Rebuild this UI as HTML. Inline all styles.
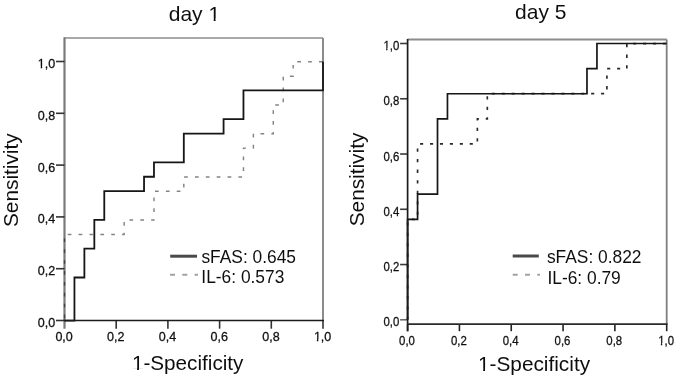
<!DOCTYPE html>
<html><head><meta charset="utf-8"><title>ROC curves day 1 and day 5</title><style>
html,body{margin:0;padding:0;background:#fff;}
body{width:685px;height:378px;overflow:hidden;}
svg{display:block;}
text{font-family:"Liberation Sans", sans-serif;fill:#111;}
</style></head><body>
<svg width="685" height="378" viewBox="0 0 685 378">
<rect x="0" y="0" width="685" height="378" fill="#fff"/>
<defs><filter id="soft" x="-2%" y="-2%" width="104%" height="104%"><feGaussianBlur stdDeviation="0.35"/></filter></defs>
<g filter="url(#soft)">
<rect x="0" y="0" width="685" height="378" fill="#fff"/>
<!-- day 1 -->
<line x1="64.5" y1="38.0" x2="323.0" y2="38.0" stroke="#8c8c8c" stroke-width="1.6"/>
<line x1="323.0" y1="38.0" x2="323.0" y2="320.5" stroke="#8c8c8c" stroke-width="2"/>
<line x1="64.5" y1="37.2" x2="64.5" y2="320.5" stroke="#7a7a7a" stroke-width="2.2"/>
<line x1="56.0" y1="320.50" x2="64.5" y2="320.50" stroke="#333" stroke-width="1.6"/>
<g transform="translate(55.20,327.00) scale(0.93,1)"><text x="-18.77" y="0" font-size="13.5" stroke="#111" stroke-width="0.3">0,0</text></g>
<line x1="56.0" y1="268.70" x2="64.5" y2="268.70" stroke="#333" stroke-width="1.6"/>
<g transform="translate(55.20,275.20) scale(0.93,1)"><text x="-18.77" y="0" font-size="13.5" stroke="#111" stroke-width="0.3">0,2</text></g>
<line x1="56.0" y1="216.90" x2="64.5" y2="216.90" stroke="#333" stroke-width="1.6"/>
<g transform="translate(55.20,223.40) scale(0.93,1)"><text x="-18.77" y="0" font-size="13.5" stroke="#111" stroke-width="0.3">0,4</text></g>
<line x1="56.0" y1="165.10" x2="64.5" y2="165.10" stroke="#333" stroke-width="1.6"/>
<g transform="translate(55.20,171.60) scale(0.93,1)"><text x="-18.77" y="0" font-size="13.5" stroke="#111" stroke-width="0.3">0,6</text></g>
<line x1="56.0" y1="113.30" x2="64.5" y2="113.30" stroke="#333" stroke-width="1.6"/>
<g transform="translate(55.20,119.80) scale(0.93,1)"><text x="-18.77" y="0" font-size="13.5" stroke="#111" stroke-width="0.3">0,8</text></g>
<line x1="56.0" y1="61.50" x2="64.5" y2="61.50" stroke="#333" stroke-width="1.6"/>
<g transform="translate(55.20,68.00) scale(0.93,1)"><text x="-18.77" y="0" font-size="13.5" stroke="#111" stroke-width="0.3">1,0</text><rect x="-18.74" y="-1.71" width="3.17" height="3.31" fill="#fff"/><rect x="-13.98" y="-1.71" width="3.26" height="3.31" fill="#fff"/></g>
<line x1="64.50" y1="320.5" x2="64.50" y2="328.7" stroke="#7a7a7a" stroke-width="2.2"/>
<g transform="translate(64.10,341.30) scale(0.93,1)"><text x="-9.38" y="0" font-size="13.5" stroke="#111" stroke-width="0.3">0,0</text></g>
<line x1="116.20" y1="320.5" x2="116.20" y2="328.7" stroke="#333" stroke-width="1.6"/>
<g transform="translate(115.80,341.30) scale(0.93,1)"><text x="-9.38" y="0" font-size="13.5" stroke="#111" stroke-width="0.3">0,2</text></g>
<line x1="167.90" y1="320.5" x2="167.90" y2="328.7" stroke="#333" stroke-width="1.6"/>
<g transform="translate(167.50,341.30) scale(0.93,1)"><text x="-9.38" y="0" font-size="13.5" stroke="#111" stroke-width="0.3">0,4</text></g>
<line x1="219.60" y1="320.5" x2="219.60" y2="328.7" stroke="#333" stroke-width="1.6"/>
<g transform="translate(219.20,341.30) scale(0.93,1)"><text x="-9.38" y="0" font-size="13.5" stroke="#111" stroke-width="0.3">0,6</text></g>
<line x1="271.30" y1="320.5" x2="271.30" y2="328.7" stroke="#333" stroke-width="1.6"/>
<g transform="translate(270.90,341.30) scale(0.93,1)"><text x="-9.38" y="0" font-size="13.5" stroke="#111" stroke-width="0.3">0,8</text></g>
<line x1="323.00" y1="320.5" x2="323.00" y2="328.7" stroke="#333" stroke-width="1.6"/>
<g transform="translate(322.60,341.30) scale(0.93,1)"><text x="-9.38" y="0" font-size="13.5" stroke="#111" stroke-width="0.3">1,0</text><rect x="-9.36" y="-1.71" width="3.17" height="3.31" fill="#fff"/><rect x="-4.60" y="-1.71" width="3.26" height="3.31" fill="#fff"/></g>
<path d="M64.50,320.80 L64.50,234.47 L124.15,234.47 L124.15,220.08 L153.98,220.08 L153.98,191.30 L183.81,191.30 L183.81,176.91 L243.46,176.91 L243.46,148.13 L253.40,148.13 L253.40,133.74 L273.29,133.74 L273.29,104.97 L283.23,104.97 L283.23,76.19 L293.17,76.19 L293.17,61.80 L323.00,61.80" fill="none" stroke="#848484" stroke-width="1.45" stroke-dasharray="3.7 7.17" stroke-dashoffset="-2.6" style="mix-blend-mode:multiply"/>
<path d="M64.50,320.65 L74.44,320.65 L74.44,277.48 L84.38,277.48 L84.38,248.71 L94.33,248.71 L94.33,219.93 L104.27,219.93 L104.27,191.15 L144.04,191.15 L144.04,176.76 L153.98,176.76 L153.98,162.37 L183.81,162.37 L183.81,133.59 L223.58,133.59 L223.58,119.21 L243.46,119.21 L243.46,90.43 L323.00,90.43 L323.00,61.65" fill="none" stroke="#151515" stroke-width="1.8"/>
<line x1="63.5" y1="320.5" x2="324.0" y2="320.5" stroke="#1a1a1a" stroke-width="1.7"/>
<g transform="translate(194.40,20.60)"><text x="-25.69" y="0" font-size="21">day 1</text><rect x="14.61" y="-2.10" width="4.65" height="3.70" fill="#fff"/><rect x="21.17" y="-2.10" width="4.52" height="3.70" fill="#fff"/></g>
<text transform="translate(18,180.2) rotate(-90)" x="0" y="0" font-size="20.8" text-anchor="middle">Sensitivity</text>
<g transform="translate(187.70,370.30)"><text x="-55.79" y="0" font-size="20.7">1-Specificity</text><rect x="-55.22" y="-2.08" width="4.60" height="3.68" fill="#fff"/><rect x="-48.73" y="-2.08" width="4.47" height="3.68" fill="#fff"/></g>
<line x1="170.2" y1="256.2" x2="197" y2="256.2" stroke="#4a4a4a" stroke-width="3"/>
<line x1="170" y1="274.8" x2="198" y2="274.8" stroke="#a2a2a2" stroke-width="2" stroke-dasharray="5 7.3"/>
<g transform="translate(201.40,262.60) scale(0.955,1)"><text x="0.00" y="0" font-size="18.2">sFAS: 0.645</text></g>
<g transform="translate(201.30,283.40) scale(0.955,1)"><text x="0.00" y="0" font-size="18.2">IL-6: 0.573</text></g>
<!-- day 5 -->
<line x1="407.6" y1="39.6" x2="666.7" y2="39.6" stroke="#8c8c8c" stroke-width="2"/>
<line x1="666.7" y1="39.6" x2="666.7" y2="324.2" stroke="#7f7f7f" stroke-width="1.8"/>
<line x1="400.1" y1="319.80" x2="407.6" y2="319.80" stroke="#6a6a6a" stroke-width="1.6"/>
<g transform="translate(399.30,326.30) scale(0.84,1)"><text x="-18.91" y="0" font-size="13.6" stroke="#111" stroke-width="0.3">0,0</text></g>
<line x1="400.1" y1="264.54" x2="407.6" y2="264.54" stroke="#3a3a3a" stroke-width="1.6"/>
<g transform="translate(399.30,271.04) scale(0.84,1)"><text x="-18.91" y="0" font-size="13.6" stroke="#111" stroke-width="0.3">0,2</text></g>
<line x1="400.1" y1="209.28" x2="407.6" y2="209.28" stroke="#3a3a3a" stroke-width="1.6"/>
<g transform="translate(399.30,215.78) scale(0.84,1)"><text x="-18.91" y="0" font-size="13.6" stroke="#111" stroke-width="0.3">0,4</text></g>
<line x1="400.1" y1="154.02" x2="407.6" y2="154.02" stroke="#3a3a3a" stroke-width="1.6"/>
<g transform="translate(399.30,160.52) scale(0.84,1)"><text x="-18.91" y="0" font-size="13.6" stroke="#111" stroke-width="0.3">0,6</text></g>
<line x1="400.1" y1="98.76" x2="407.6" y2="98.76" stroke="#3a3a3a" stroke-width="1.6"/>
<g transform="translate(399.30,105.26) scale(0.84,1)"><text x="-18.91" y="0" font-size="13.6" stroke="#111" stroke-width="0.3">0,8</text></g>
<line x1="400.1" y1="43.50" x2="407.6" y2="43.50" stroke="#3a3a3a" stroke-width="1.6"/>
<g transform="translate(399.30,50.00) scale(0.84,1)"><text x="-18.91" y="0" font-size="13.6" stroke="#111" stroke-width="0.3">1,0</text><rect x="-18.87" y="-1.72" width="3.18" height="3.32" fill="#fff"/><rect x="-14.08" y="-1.72" width="3.28" height="3.32" fill="#fff"/></g>
<line x1="407.60" y1="324.2" x2="407.60" y2="331.2" stroke="#222" stroke-width="1.6"/>
<g transform="translate(407.00,344.70) scale(0.84,1)"><text x="-9.45" y="0" font-size="13.6" stroke="#111" stroke-width="0.3">0,0</text></g>
<line x1="459.42" y1="324.2" x2="459.42" y2="331.2" stroke="#222" stroke-width="1.6"/>
<g transform="translate(458.82,344.70) scale(0.84,1)"><text x="-9.45" y="0" font-size="13.6" stroke="#111" stroke-width="0.3">0,2</text></g>
<line x1="511.24" y1="324.2" x2="511.24" y2="331.2" stroke="#222" stroke-width="1.6"/>
<g transform="translate(510.64,344.70) scale(0.84,1)"><text x="-9.45" y="0" font-size="13.6" stroke="#111" stroke-width="0.3">0,4</text></g>
<line x1="563.06" y1="324.2" x2="563.06" y2="331.2" stroke="#222" stroke-width="1.6"/>
<g transform="translate(562.46,344.70) scale(0.84,1)"><text x="-9.45" y="0" font-size="13.6" stroke="#111" stroke-width="0.3">0,6</text></g>
<line x1="614.88" y1="324.2" x2="614.88" y2="331.2" stroke="#222" stroke-width="1.6"/>
<g transform="translate(614.28,344.70) scale(0.84,1)"><text x="-9.45" y="0" font-size="13.6" stroke="#111" stroke-width="0.3">0,8</text></g>
<line x1="666.70" y1="324.2" x2="666.70" y2="331.2" stroke="#222" stroke-width="1.6"/>
<g transform="translate(666.10,344.70) scale(0.84,1)"><text x="-9.45" y="0" font-size="13.6" stroke="#111" stroke-width="0.3">1,0</text><rect x="-9.42" y="-1.72" width="3.18" height="3.32" fill="#fff"/><rect x="-4.63" y="-1.72" width="3.28" height="3.32" fill="#fff"/></g>
<path transform="scale(1,1.06)" d="M407.60,301.70 L407.60,206.91 L417.57,206.91 L417.57,135.82 L477.36,135.82 L477.36,112.13 L487.32,112.13 L487.32,88.43 L606.91,88.43 L606.91,64.73 L626.84,64.73 L626.84,41.04 L666.70,41.04" fill="none" stroke="#2a2a2a" stroke-width="1.65" stroke-dasharray="3.1 6.83" stroke-dashoffset="0.39"/>
<path d="M407.60,319.80 L407.60,219.33 L417.57,219.33 L417.57,194.21 L437.50,194.21 L437.50,118.85 L447.46,118.85 L447.46,93.74 L586.98,93.74 L586.98,68.62 L596.94,68.62 L596.94,43.50 L666.70,43.50" fill="none" stroke="#151515" stroke-width="1.7"/>
<line x1="407.6" y1="39.1" x2="407.6" y2="331.2" stroke="#1a1a1a" stroke-width="1.7"/>
<line x1="407.6" y1="324.2" x2="667.6" y2="324.2" stroke="#2a2a2a" stroke-width="1.7"/>
<g transform="translate(540.80,18.60)"><text x="-25.69" y="0" font-size="21">day 5</text></g>
<text transform="translate(364.1,179.5) rotate(-90)" x="0" y="0" font-size="20.8" text-anchor="middle">Sensitivity</text>
<g transform="translate(534.00,370.50)"><text x="-56.06" y="0" font-size="20.8">1-Specificity</text><rect x="-55.48" y="-2.08" width="4.62" height="3.68" fill="#fff"/><rect x="-48.96" y="-2.08" width="4.48" height="3.68" fill="#fff"/></g>
<line x1="512.7" y1="256" x2="538.8" y2="256" stroke="#4a4a4a" stroke-width="3"/>
<line x1="512.7" y1="274.7" x2="540" y2="274.7" stroke="#a2a2a2" stroke-width="2" stroke-dasharray="5 7.3"/>
<g transform="translate(546.90,262.50) scale(0.955,1)"><text x="0.00" y="0" font-size="18.2">sFAS: 0.822</text></g>
<g transform="translate(547.40,283.70) scale(0.955,1)"><text x="0.00" y="0" font-size="18.2">IL-6: 0.79</text></g>
</g></svg>
</body></html>
